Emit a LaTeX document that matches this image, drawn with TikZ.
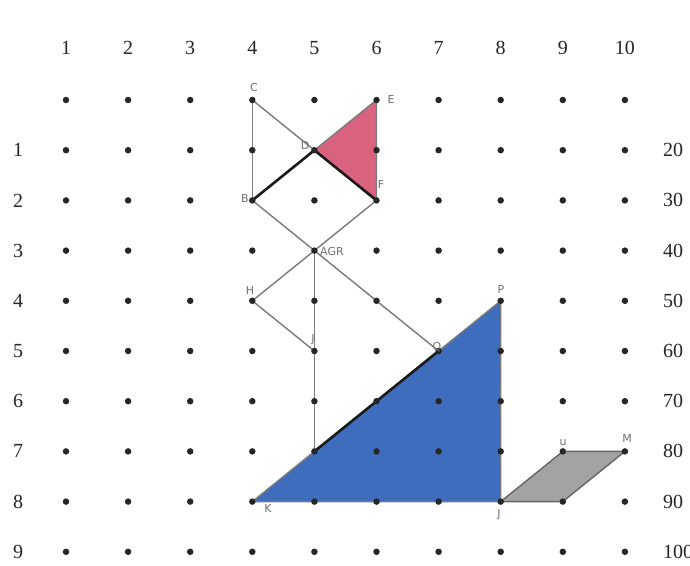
\documentclass[tikz,border=0pt]{standalone}
\usepackage{fontspec}
\setmainfont{Liberation Serif}
\newfontfamily\handfont{DejaVu Sans}
\definecolor{pinkfill}{HTML}{D9627E}
\definecolor{bluefill}{HTML}{3F6DBE}
\definecolor{grayfill}{HTML}{A3A3A3}
\definecolor{penline}{HTML}{7A7A7A}
\definecolor{labelgray}{HTML}{707070}
\tikzset{
  gridnum/.style={font=\fontsize{20}{20}\selectfont, text=black!85},
  griddot/.style={circle, fill=black!85, inner sep=0pt, minimum size=6.5pt},
  pen/.style={draw=penline, line width=1.4pt},
  inkline/.style={draw=black!90, line width=2.6pt},
  handlbl/.style={font=\handfont\fontsize{11}{11}\selectfont, text=labelgray, inner sep=1pt},
}
\begin{document}
\begin{tikzpicture}[x=1pt, y=-1pt]
\useasboundingbox (0,0) rectangle (690,565);
\fill[white] (0,0) rectangle (690,565);
% grid coordinates
\foreach \c in {1,...,10}{
  \foreach \r in {0,...,9}{
    \coordinate (p-\c-\r) at ({66+62.1*(\c-1)},{100+50.2*\r});
  }
}
% column numbers
\foreach \c in {1,...,10}{
  \node[gridnum] (col\c) at ({66+62.1*(\c-1)},48) {\c};
}
% row numbers
\foreach \r in {1,...,9}{
  \node[gridnum] (row\r) at (18,{100+50.2*\r}) {\r};
}
% right-hand numbers (cut off by the page edge)
\foreach \r/\v in {1/20,2/30,3/40,4/50,5/60,6/70,7/80,8/90,9/100}{
  \node[gridnum, anchor=west, inner sep=0pt] (rt\r) at (663,{100+50.2*\r}) {\v};
}
% fills
\fill[pinkfill] (p-5-1) -- (p-6-0) -- (p-6-2) -- cycle;
\fill[bluefill] (p-4-8) -- (p-8-4) -- (p-8-8) -- cycle;
\fill[grayfill] (p-8-8) -- (p-9-7) -- (p-10-7) -- (p-9-8) -- cycle;
% gray pencil lines
\draw[pen] (p-4-0) -- (p-4-2);
\draw[pen] (p-4-0) -- (p-5-1);
\draw[pen] (p-5-1) -- (p-6-0) -- (p-6-2);
\draw[pen] (p-4-2) -- (p-5-3) -- (p-6-2);
\draw[pen] (p-5-3) -- (p-4-4) -- (p-5-5);
\draw[pen] (p-5-3) -- (p-5-7);
\draw[pen] (p-5-3) -- (p-7-5);
\draw[pen] (p-4-8) -- (p-8-4) -- (p-8-8) -- (p-4-8);
\draw[pen, draw=black!60] (p-8-8) -- (p-9-7) -- (p-10-7) -- (p-9-8) -- cycle;
% black ink segments
\draw[inkline] (p-4-2) -- (p-5-1) -- (p-6-2);
\draw[inkline] (p-5-7) -- (p-7-5);
% dots
\foreach \c in {1,...,10}{
  \foreach \r in {0,...,9}{
    \node[griddot] (d-\c-\r) at (p-\c-\r) {};
  }
}
% handwritten labels
\node[handlbl] (lC) at (254,87) {C};
\node[handlbl] (lE) at (391,99) {E};
\node[handlbl] (lD) at (305,145) {D};
\node[handlbl] (lF) at (381,184) {F};
\node[handlbl] (lB) at (245,198) {B};
\node[handlbl, anchor=west] (lAGR) at (319,251) {AGR};
\node[handlbl] (lH) at (250,290) {H};
\node[handlbl] (lJ) at (313,340) {J};
\node[handlbl] (lP) at (501,289) {P};
\node[handlbl] (lQ) at (437,347) {Q};
\node[handlbl] (lK) at (268,508) {K};
\node[handlbl] (lO) at (499,515) {J};
\node[handlbl] (lN) at (563,442) {u};
\node[handlbl] (lM) at (627,438) {M};
\end{tikzpicture}
\end{document}
